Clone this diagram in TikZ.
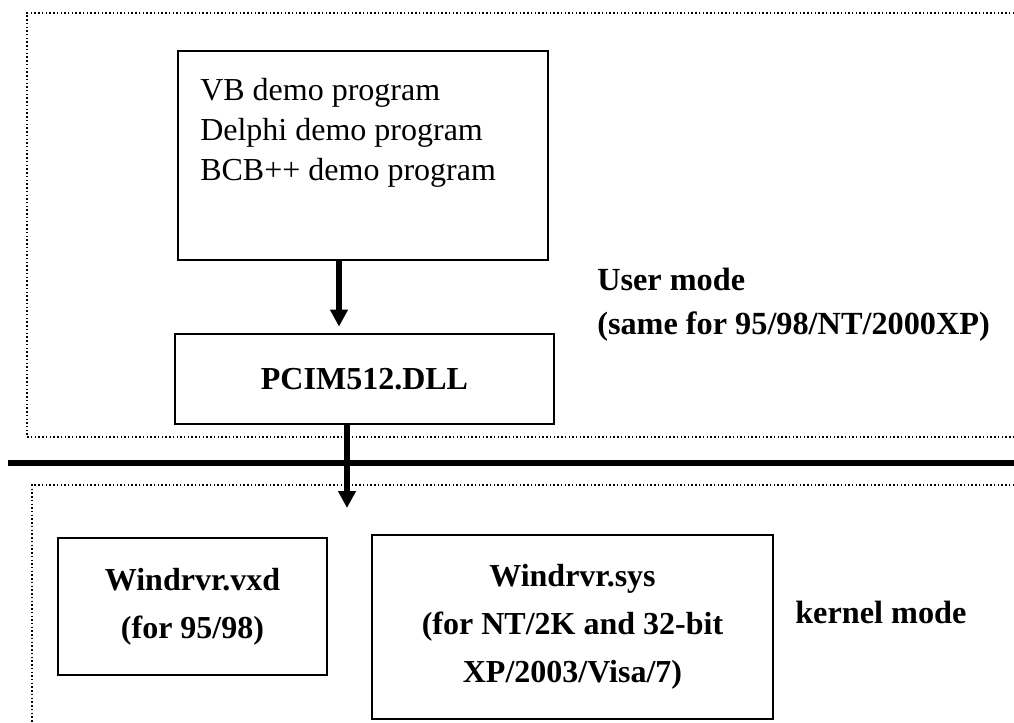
\documentclass[tikz,border=0pt]{standalone}
\usepackage{fontspec}
\setmainfont{Liberation Serif}
\usepackage{tikz}
\usetikzlibrary{arrows.meta, positioning, calc}

\begin{document}
\begin{tikzpicture}[x=0.75pt, y=-0.75pt,
  box/.style={draw, line width=1.1pt, inner sep=0pt, font=\fontsize{24}{30}\selectfont},
  drvbox/.style={box, align=center, font=\fontsize{24}{36}\selectfont\bfseries},
  zone/.style={line width=1.1pt, dash pattern=on 1.1pt off 1.7pt},
  bigarrow/.style={line width=4.5pt, -{Triangle[width=12.75pt, length=12.75pt]}},
  modelabel/.style={align=left, anchor=west, inner sep=0pt, font=\fontsize{24.2}{33}\selectfont\bfseries}]
\useasboundingbox (0,0) rectangle (1014,722);
\draw[zone] (1014,13) -- (27,13) -- (27,437) -- (1014,437);
\draw[zone] (1014,485) -- (32,485) -- (32,722);
\draw[line width=4.5pt] (8,463) -- (1014,463);
\node[box, minimum width=277.5pt, minimum height=156.75pt] (demos) at (363,155.5) {};
\node[align=left, anchor=west, inner sep=0pt, font=\fontsize{24}{30}\selectfont]
  (demolist) at (200,133) {VB demo program\\Delphi demo program\\BCB++ demo program};
\node[box, minimum width=284.25pt, minimum height=67.5pt, font=\fontsize{24}{30}\selectfont\bfseries]
  (dll) at (364.5,379) {PCIM512.DLL};
\node[drvbox, minimum width=201.75pt, minimum height=102.75pt] (vxd) at (192.5,606.5)
  {Windrvr.vxd\\(for 95/98)};
\node[drvbox, minimum width=300.75pt, minimum height=138pt] (sys) at (572.5,627)
  {Windrvr.sys\\(for NT/2K and 32-bit\\XP/2003/Visa/7)};
\node[modelabel] (usermode) at (597,305) {User mode\\(same for 95/98/NT/2000XP)};
\node[modelabel] (kernelmode) at (795,612) {kernel mode};
\coordinate (upshaft) at (339,0);
\coordinate (drvtip) at (347,508);
\draw[bigarrow] (upshaft |- demos.south) -- ([yshift=5pt]upshaft |- dll.north);
\draw[bigarrow] (drvtip |- dll.south) -- (drvtip);
\end{tikzpicture}
\end{document}
